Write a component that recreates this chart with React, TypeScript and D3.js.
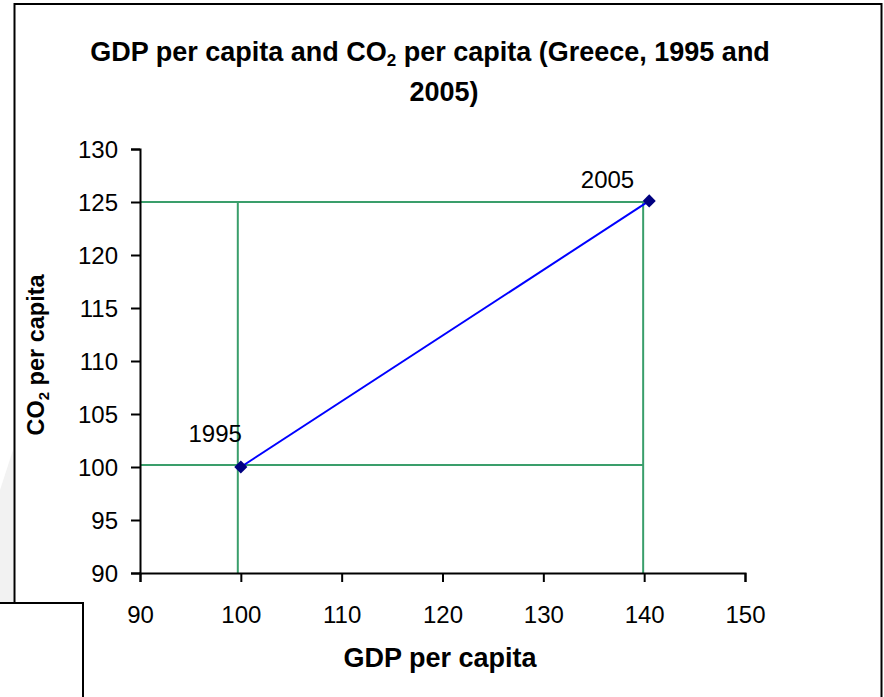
import React, { useRef, useEffect } from "react";
import * as d3 from "d3";

// data
const years = ["1995", "2005"];
const gdpValues = [100, 140.5];
const co2Values = [100, 125.1];
const xTicks = [90, 100, 110, 120, 130, 140, 150];
const yTicks = [90, 95, 100, 105, 110, 115, 120, 125, 130];
const gdpRefLines = [99.7, 139.9];
const co2RefLines = [100.2, 125.0];

const W = 884;
const H = 697;
const FONT = "'Liberation Sans', Arial, sans-serif";

const App = () => {
  const svgRef = useRef<SVGSVGElement>(null);

  useEffect(() => {
    const svg = d3.select(svgRef.current);
    svg.selectAll("*").remove();

    // light shading outside the chart frame
    svg.append("polygon")
      .attr("points", "0,490 13,450 13,603 0,603")
      .attr("fill", "#f2f2f2");

    // chart frame
    svg.append("rect")
      .attr("x", 14.5).attr("y", 4)
      .attr("width", 867).attr("height", 720)
      .attr("fill", "white")
      .attr("stroke", "black")
      .attr("stroke-width", 2);

    // scales
    const x = d3.scaleLinear().domain([90, 150]).range([140, 745]);
    const y = d3.scaleLinear().domain([90, 130]).range([573, 149]);

    // title
    const title = svg.append("text")
      .attr("font-family", FONT)
      .attr("font-weight", "bold")
      .attr("font-size", 27)
      .attr("text-anchor", "middle");
    const l1 = title.append("tspan").attr("x", 430).attr("y", 61);
    l1.append("tspan").text("GDP per capita and CO");
    l1.append("tspan").attr("font-size", 17).attr("dy", 5).text("2");
    l1.append("tspan").attr("dy", -5).text(" per capita (Greece, 1995 and");
    title.append("tspan").attr("x", 444).attr("y", 101).text("2005)");

    // reference lines
    const g = svg.append("g");
    g.selectAll(".hline")
      .data(co2RefLines)
      .join("line")
      .attr("class", "hline")
      .attr("x1", x(90))
      .attr("x2", x(d3.max(gdpRefLines)!))
      .attr("y1", d => y(d))
      .attr("y2", d => y(d))
      .attr("stroke", "#3a9e6b")
      .attr("stroke-width", 2);
    g.selectAll(".vline")
      .data(gdpRefLines)
      .join("line")
      .attr("class", "vline")
      .attr("x1", d => x(d))
      .attr("x2", d => x(d))
      .attr("y1", y(90))
      .attr("y2", y(d3.max(co2RefLines)!))
      .attr("stroke", "#3a9e6b")
      .attr("stroke-width", 2);

    // axes
    const xAxis = svg.append("g")
      .attr("transform", `translate(0,${y(90)})`)
      .call(d3.axisBottom(x).tickValues(xTicks).tickSizeOuter(0).tickSize(9).tickPadding(24));
    const yAxis = svg.append("g")
      .attr("transform", `translate(${x(90)},0)`)
      .call(d3.axisLeft(y).tickValues(yTicks).tickSizeOuter(0).tickSize(9).tickPadding(13));
    [xAxis, yAxis].forEach(a => {
      a.select(".domain").attr("stroke", "black").attr("stroke-width", 2);
      a.selectAll(".tick line").attr("stroke", "black").attr("stroke-width", 2);
      a.selectAll(".tick text")
        .attr("font-family", FONT)
        .attr("font-size", 24)
        .attr("fill", "black");
    });
    yAxis.selectAll(".tick text").attr("dy", "0.35em");

    // series
    const pts = years.map((yr, i) => ({ yr, gx: gdpValues[i], cy: co2Values[i] }));
    svg.append("path")
      .datum(pts)
      .attr("fill", "none")
      .attr("stroke", "#0000ff")
      .attr("stroke-width", 2)
      .attr("d", d3.line<any>().x(d => x(d.gx)).y(d => y(d.cy)));

    svg.selectAll(".marker")
      .data(pts)
      .join("path")
      .attr("class", "marker")
      .attr("d", d3.symbol().type(d3.symbolDiamond2).size(110))
      .attr("transform", d => `translate(${x(d.gx)},${y(d.cy)})`)
      .attr("fill", "#000080");

    const labelDx = [1, -15];
    const labelDy = [-25, -13];
    svg.selectAll(".label")
      .data(pts)
      .join("text")
      .attr("class", "label")
      .attr("x", (d, i) => x(d.gx) + labelDx[i])
      .attr("y", (d, i) => y(d.cy) + labelDy[i])
      .attr("text-anchor", "end")
      .attr("font-family", FONT)
      .attr("font-size", 24)
      .text(d => d.yr);

    // axis titles
    svg.append("text")
      .attr("x", 440).attr("y", 667)
      .attr("text-anchor", "middle")
      .attr("font-family", FONT)
      .attr("font-weight", "bold")
      .attr("font-size", 27)
      .text("GDP per capita");

    const yt = svg.append("text")
      .attr("transform", "translate(44,355) rotate(-90)")
      .attr("text-anchor", "middle")
      .attr("font-family", FONT)
      .attr("font-weight", "bold")
      .attr("font-size", 23.5);
    yt.append("tspan").text("CO");
    yt.append("tspan").attr("font-size", 15).attr("dy", 5).text("2");
    yt.append("tspan").attr("dy", -5).text(" per capita");

    // overlapping box at the bottom left
    svg.append("rect")
      .attr("x", -2).attr("y", 603)
      .attr("width", 85).attr("height", 110)
      .attr("fill", "white")
      .attr("stroke", "black")
      .attr("stroke-width", 2);
  }, []);

  return (
    <svg
      ref={svgRef}
      width={W}
      height={H}
      style={{ position: "absolute", left: 0, top: 0, background: "white" }}
    />
  );
};

export default App;
